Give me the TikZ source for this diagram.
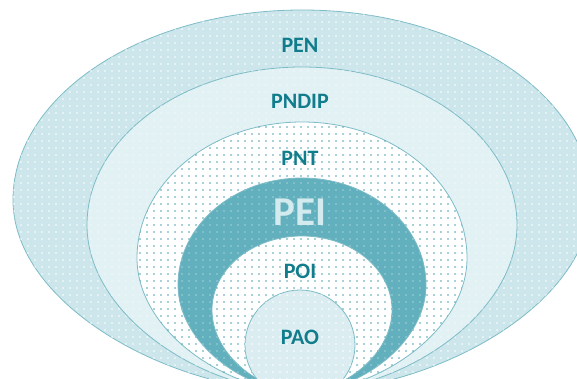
\documentclass[tikz,border=0pt]{standalone}
\usepackage{fontspec}
\setmainfont{Carlito}
\usetikzlibrary{patterns.meta}
\definecolor{penfill}{HTML}{CCE6EB}
\definecolor{pndipfill}{HTML}{E2F1F4}
\definecolor{peifill}{HTML}{62B0BD}
\definecolor{paofill}{HTML}{DBEDF0}
\definecolor{edge}{HTML}{7DBCC7}
\definecolor{txt}{HTML}{117D8C}
\definecolor{peitxt}{HTML}{D3EBEF}
\definecolor{dotteal}{HTML}{4FA3B1}
\tikzset{
  droppath/.style n args={3}{insert path={
    (302,392) .. controls ({302-0.45*(302-#1)},392) and (#1,{#2+0.55*(392-#2)}) .. (#1,#2)
    arc[start angle=180,end angle=360,x radius={302-#1},y radius={#2-#3}]
    .. controls ({604-#1},{#2+0.55*(392-#2)}) and ({302+0.45*(302-#1)},392) .. (302,392) -- cycle}},
  layer/.style n args={3}{draw=edge, line width=0.8pt, fill=#1,
    postaction={pattern={Dots[distance=7pt, radius=#3]}, pattern color=#2}},
  lbl/.style={text=txt, font=\bfseries\fontsize{22}{22}\selectfont, inner sep=0pt}
}
\begin{document}
\begin{tikzpicture}[x=1pt,y=-1pt]
\useasboundingbox (0,0) rectangle (577,379);
\clip (0,0) rectangle (577,379);
\path[layer={penfill}{white}{0.9pt}] [droppath={13}{200}{10}];
\path[layer={pndipfill}{white!60!pndipfill}{0.8pt}] [droppath={87}{225}{67}];
\path[layer={white}{dotteal}{0.85pt}] [droppath={137}{258}{122}];
\path[layer={peifill}{white!40!peifill}{0.9pt}] [droppath={178}{285}{178}];
\path[layer={white}{dotteal}{0.85pt}] [droppath={212}{310}{236}];
\path[layer={paofill}{white}{0.8pt}] (300,345) circle[radius=55];
\node[lbl] (pen) at (300,45) {PEN};
\node[lbl] (pndip) at (300,101) {PNDIP};
\node[lbl] (pnt) at (300,158) {PNT};
\node[text=peitxt, font=\bfseries\fontsize{41}{41}\selectfont, inner sep=0pt] (pei) at (300,212) {PEI};
\node[lbl] (poi) at (300,271) {POI};
\node[lbl] (pao) at (300,337) {PAO};
\end{tikzpicture}
\end{document}
